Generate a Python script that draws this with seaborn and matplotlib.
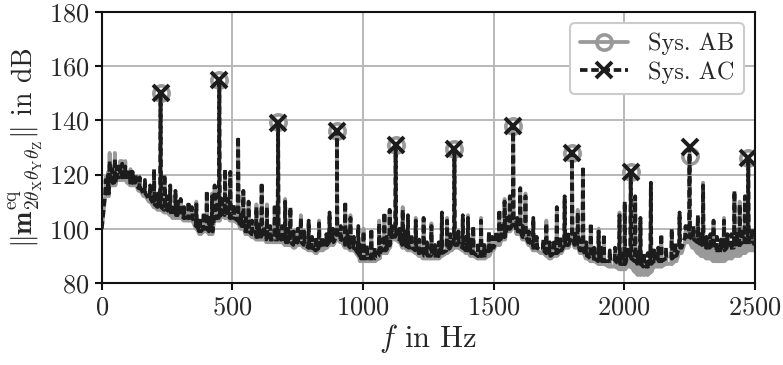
import numpy as np
import pandas as pd
import matplotlib
matplotlib.use("Agg")
import matplotlib.pyplot as plt
import seaborn as sns
from matplotlib.lines import Line2D

# ---------------- data ----------------
base_freq = list(range(0, 2501, 20))
base_ac = [100, 113, 117, 119, 119, 118, 117, 115, 113, 111,
           109, 108, 107, 106, 105, 105, 104, 104, 101, 99,
           100, 99, 104, 106, 105, 104, 103, 101, 99, 98,
           97, 97, 96, 96, 96, 95, 95, 94, 95, 94,
           93, 92, 93, 94, 95, 97, 96, 94, 93, 91,
           89, 89, 89, 90, 92, 94, 97, 96, 94, 93,
           92, 91, 90, 90, 90, 91, 92, 93, 94, 93,
           92, 91, 90, 90, 91, 93, 95, 97, 100, 102,
           99, 97, 95, 93, 92, 91, 90, 91, 92, 94,
           97, 94, 92, 90, 89, 88, 88, 88, 88, 87,
           87, 89, 88, 87, 86, 87, 88, 88, 89, 89,
           90, 93, 97, 96, 95, 94, 93, 93, 92, 92,
           93, 93, 94, 95, 95, 94]
base_ab = [100, 112, 116, 118, 118, 117, 116, 114, 112, 110,
           108, 107, 106, 105, 104, 104, 103, 103, 100, 98,
           99, 98, 103, 105, 104, 103, 102, 100, 98, 97,
           96, 96, 95, 95, 95, 94, 94, 93, 94, 93,
           92, 91, 92, 93, 94, 96, 95, 93, 92, 90,
           88, 88, 88, 89, 91, 93, 96, 95, 93, 92,
           91, 90, 89, 89, 89, 90, 91, 92, 93, 92,
           91, 90, 89, 89, 90, 92, 94, 96, 99, 101,
           98, 96, 94, 92, 91, 90, 89, 90, 91, 93,
           96, 93, 91, 89, 88, 87, 87, 86, 86, 85,
           85, 86, 84, 83, 83, 84, 86, 86, 87, 87,
           88, 91, 95, 93, 91, 90, 89, 88, 88, 88,
           89, 90, 90, 91, 92, 92]

peak_freq = [225, 450, 675, 900, 1125, 1350, 1575, 1800, 2025, 2250, 2475]
peak_ac = [150, 155, 139, 136, 131, 129.5, 138, 128, 121, 130, 126]
peak_ab = [150, 155, 139.5, 136, 131, 129.5, 138, 128, 121, 127, 126]

spike_freq = [30, 50, 70, 90, 110, 130, 200, 240, 262, 282, 302, 332, 362,
              402, 422, 432, 472, 492, 522, 542, 562, 592, 612, 632, 662,
              702, 722, 762, 792, 832, 872, 932, 952, 982, 1002, 1032, 1062,
              1082, 1102, 1152, 1172, 1202, 1232, 1262, 1302, 1322, 1382,
              1402, 1422, 1452, 1482, 1522, 1542, 1562, 1602, 1622, 1652,
              1702, 1742, 1772, 1822, 1842, 1872, 1902, 1922, 1982, 2002,
              2042, 2062, 2102, 2142, 2182, 2212, 2282, 2302, 2342, 2382,
              2422, 2442, 2462]
spike_ac = [125, 126, 124, 123, 121, 120, 122, 120, 116, 114, 111, 110, 109,
            114, 112, 116, 122, 121, 134, 114, 110, 108, 117, 108, 109,
            110, 108, 104, 103, 102, 106, 110, 104, 101, 99, 100, 102,
            106, 107, 107, 105, 103, 104, 101, 106, 103, 105,
            104, 101, 103, 99, 107, 110, 112, 115, 112, 104,
            102, 108, 112, 106, 123, 102, 99, 98, 105, 110,
            112, 104, 117, 98, 100, 106, 105, 116, 103, 103,
            114, 109, 112]
spike_ab = [128, 128, 125, 125, 122, 119, 121, 119, 115, 113, 110, 109, 110,
            113, 113, 115, 121, 120, 133, 113, 109, 109, 116, 109, 108,
            111, 107, 105, 102, 103, 105, 109, 105, 100, 100, 99, 103,
            105, 106, 108, 104, 104, 103, 102, 105, 104, 104,
            105, 100, 104, 98, 106, 111, 111, 114, 113, 103,
            103, 107, 111, 107, 122, 101, 100, 97, 106, 109,
            111, 103, 116, 97, 99, 105, 104, 117, 102, 104,
            113, 110, 111]

minor_freq = [15, 25, 40, 58, 78, 98, 118, 145, 165, 185,
              215, 250, 272, 292, 315, 345, 375, 390, 412, 442,
              460, 482, 505, 532, 552, 575, 600, 622, 645, 690,
              712, 735, 750, 775, 805, 820, 845, 860, 885, 915,
              940, 965, 990, 1015, 1045, 1070, 1090, 1110, 1140, 1160,
              1185, 1215, 1245, 1275, 1290, 1335, 1365, 1395, 1412, 1440,
              1465, 1495, 1510, 1532, 1552, 1590, 1612, 1635, 1665, 1690,
              1715, 1732, 1755, 1785, 1812, 1832, 1855, 1885, 1912, 1945,
              1965, 1992, 2012, 2052, 2075, 2090, 2115, 2130, 2160, 2195,
              2235, 2265, 2295, 2315, 2330, 2355, 2370, 2395, 2410, 2432,
              2452, 2490]
minor_ac = [118, 120, 122, 123, 124, 122, 121, 119, 118, 116,
            113, 112, 109, 110, 108, 108, 104, 106, 104, 110,
            112, 111, 109, 106, 104, 103, 102, 101, 101, 101,
            100, 99, 100, 99, 97, 97, 97, 98, 100, 101,
            99, 97, 94, 94, 93, 96, 97, 101, 100, 99,
            98, 96, 95, 94, 95, 98, 99, 97, 96, 95,
            94, 97, 99, 101, 104, 104, 101, 99, 97, 96,
            95, 96, 97, 99, 99, 96, 95, 93, 93, 92,
            93, 92, 93, 92, 91, 91, 92, 93, 93, 95,
            101, 101, 99, 97, 98, 97, 96, 98, 98, 98,
            100, 100]
minor_ab = [119, 121, 123, 122, 125, 121, 120, 118, 117, 115,
            112, 111, 108, 109, 107, 107, 103, 105, 103, 109,
            111, 110, 108, 105, 103, 102, 101, 100, 100, 100,
            99, 98, 99, 98, 96, 96, 96, 97, 99, 100,
            98, 96, 93, 93, 92, 95, 96, 100, 99, 98,
            97, 95, 94, 93, 94, 97, 98, 96, 95, 94,
            93, 96, 98, 100, 103, 103, 100, 98, 96, 95,
            94, 95, 96, 98, 98, 95, 94, 92, 92, 91,
            91, 90, 90, 88, 88, 88, 90, 90, 91, 93,
            99, 98, 96, 94, 94, 93, 93, 94, 95, 95,
            96, 97]

series_names = ["Sys. AB", "Sys. AC"]


def build(base_vals, pk_vals, sp_vals, mn_vals):
    pts = list(zip(base_freq, base_vals, [False] * len(base_freq)))
    tips = ([(f, h, True) for f, h in zip(peak_freq, pk_vals)] +
            [(f, h, False) for f, h in zip(spike_freq, sp_vals)] +
            [(f, h, False) for f, h in zip(minor_freq, mn_vals)])
    for f, h, is_pk in tips:
        foot = base_vals[int(round(f / 20))]
        pts.append((f - 2, foot, False))
        pts.append((f, h, is_pk))
        pts.append((f + 2, foot, False))
    pts.sort(key=lambda p: p[0])
    x = [p[0] for p in pts]
    y = [p[1] for p in pts]
    mk = [i for i, p in enumerate(pts) if p[2]]
    return x, y, mk


x_ab, y_ab, mk_ab = build(base_ab, peak_ab, spike_ab, minor_ab)
x_ac, y_ac, mk_ac = build(base_ac, peak_ac, spike_ac, minor_ac)
df_ab = pd.DataFrame({"f": x_ab, "v": y_ab})
df_ac = pd.DataFrame({"f": x_ac, "v": y_ac})

# ---------------- style ----------------
sns.set_style("ticks")
plt.rcParams.update({
    "font.family": "serif",
    "font.serif": ["cmr10"],
    "mathtext.fontset": "cm",
    "axes.formatter.use_mathtext": True,
    "axes.unicode_minus": False,
})

grey = "#999999"
dark = "#1c1c1c"
lw = 2.7
dash = (2.0, 1.0)

fig = plt.figure(figsize=(7.83, 3.65), dpi=100)
ax = fig.add_axes([0.130, 0.225, 0.834, 0.742])

sns.lineplot(data=df_ab, x="f", y="v", ax=ax, color=grey, lw=lw,
             estimator=None, sort=False, marker="o", markevery=mk_ab,
             markersize=11, markerfacecolor="none", markeredgecolor=grey,
             markeredgewidth=2.6, zorder=2)
sns.lineplot(data=df_ac, x="f", y="v", ax=ax, color=dark, lw=lw,
             estimator=None, sort=False, marker="x", markevery=mk_ac,
             markersize=11, markeredgewidth=2.8, markeredgecolor=dark,
             zorder=3)
ax.lines[-1].set_dashes(dash)

ax.set_xlim(0, 2500)
ax.set_ylim(80, 180)
ax.set_xticks([0, 500, 1000, 1500, 2000, 2500])
ax.set_yticks([80, 100, 120, 140, 160, 180])
ax.grid(True, color="#b8b8b8", lw=1.4, zorder=0)
ax.set_axisbelow(True)
for s in ax.spines.values():
    s.set_visible(True)
    s.set_linewidth(1.5)
    s.set_color("#111111")
ax.tick_params(labelsize=19, width=1.5, length=5, color="#111111", pad=4)

ax.set_xlabel(r"$f$ in Hz", fontsize=22, labelpad=2)
ax.set_ylabel(r"$\Vert\mathbf{m}^{\mathrm{eq}}_{2\theta_{\mathrm{X}}\theta_{\mathrm{Y}}\theta_{\mathrm{Z}}}\Vert$ in dB",
              fontsize=20, labelpad=3)

handles = [
    Line2D([], [], color=grey, lw=lw, marker="o", markersize=11,
           markerfacecolor="none", markeredgecolor=grey, markeredgewidth=2.6),
    Line2D([], [], color=dark, lw=lw, ls=(0, dash), marker="x",
           markersize=11, markeredgewidth=2.8),
]
leg = ax.legend(handles, series_names, loc="upper right", fontsize=17.5,
                frameon=True, fancybox=True, framealpha=1.0,
                edgecolor="#cccccc", handlelength=2.0, borderpad=0.4,
                labelspacing=0.25, handletextpad=0.8,
                bbox_to_anchor=(1.0, 1.0), borderaxespad=0.45)
leg.get_frame().set_linewidth(1.5)

fig.savefig("out.png", dpi=100)
